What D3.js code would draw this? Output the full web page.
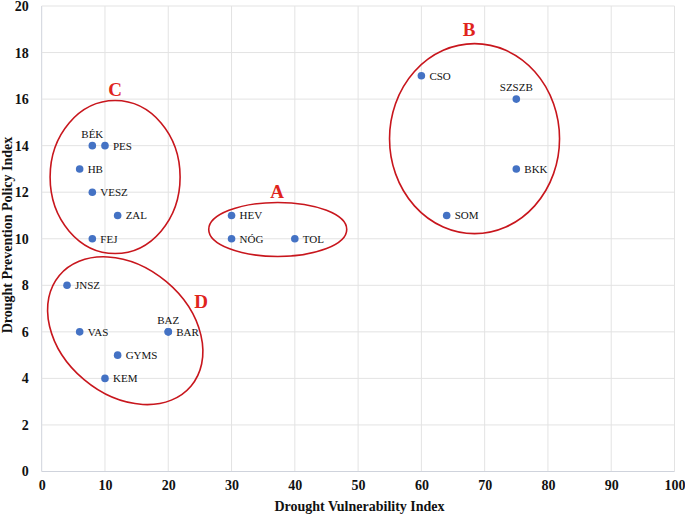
<!DOCTYPE html>
<html>
<head>
<meta charset="utf-8">
<script src="https://cdn.jsdelivr.net/npm/d3@7"></script>
<style>
  html, body { margin: 0; padding: 0; background: #fff; }
  svg { display: block; }
</style>
</head>
<body>
<svg id="chart" width="685" height="514"></svg>
<script>
// ---- Data ----
const names   = ["BÉK","PES","HB","VESZ","ZAL","FEJ","JNSZ","VAS","BAZ","BAR","GYMS","KEM","HEV","NÓG","TOL","CSO","SZSZB","BKK","SOM"];
const vulnerability = [8,10,6,8,12,8,4,6,20,20,12,10,30,30,40,60,75,75,64];
const policy        = [14,14,13,12,11,10,8,6,6,6,5,4,11,10,10,17,16,13,11];
const labelPos      = ["top","right","right","right","right","right","right","right","top","right","right","right","right","right","right","right","top","right","right"];
const xTicks = [0,10,20,30,40,50,60,70,80,90,100];
const yTicks = [0,2,4,6,8,10,12,14,16,18,20];
const groupLetters = ["A","B","C","D"];
const groupCenterX = [37.3, 68.4, 11.6, 13.2];
const groupCenterY = [10.4, 14.3, 12.65, 6.05];

// ---- Layout ----
const svg = d3.select("#chart");
const pLeft = 41.7, pRight = 674.5, pTop = 6, pBottom = 471.5;
const x = d3.scaleLinear().domain([0,100]).range([pLeft, pRight]);
const y = d3.scaleLinear().domain([0,20]).range([pBottom, pTop]);
const serif = "'Liberation Serif', 'Times New Roman', serif";

// gridlines
const grid = svg.append("g");
grid.selectAll("line.v").data(xTicks).join("line")
  .attr("x1", d => x(d)).attr("x2", d => x(d))
  .attr("y1", pTop).attr("y2", pBottom)
  .attr("stroke", d => d === 0 ? "#cfd3dc" : "#e3e3e3").attr("stroke-width", 1);
grid.selectAll("line.h").data(yTicks).join("line")
  .attr("x1", pLeft).attr("x2", pRight)
  .attr("y1", d => y(d)).attr("y2", d => y(d))
  .attr("stroke", d => d === 0 ? "#cfd3dc" : "#e3e3e3").attr("stroke-width", 1);

// axes (labels only)
const xAxis = svg.append("g").attr("transform", `translate(0,${pBottom})`)
  .call(d3.axisBottom(x).tickValues(xTicks).tickSize(0).tickPadding(9));
const yAxis = svg.append("g").attr("transform", `translate(${pLeft},0)`)
  .call(d3.axisLeft(y).tickValues(yTicks).tickSize(0).tickPadding(13));
[xAxis, yAxis].forEach(a => {
  a.select(".domain").remove();
  a.selectAll("text")
    .attr("font-family", serif)
    .attr("font-weight", "bold").attr("font-size", 14).attr("fill", "#111");
});

// axis titles
svg.append("text").attr("x", 359.5).attr("y", 510.5)
  .attr("text-anchor", "middle")
  .attr("font-family", serif)
  .attr("font-weight", "bold").attr("font-size", 14).attr("fill", "#111")
  .text("Drought Vulnerability Index");
svg.append("text").attr("transform", `translate(11.5,235) rotate(-90)`)
  .attr("text-anchor", "middle")
  .attr("font-family", serif)
  .attr("font-weight", "bold").attr("font-size", 14).attr("fill", "#111")
  .text("Drought Prevention Policy Index");

// ellipses (radius in px, rotation in degrees)
const ellShape = [
  {rx: 69, ry: 27, rot: 0},
  {rx: 85, ry: 95, rot: 0},
  {rx: 65, ry: 76.5, rot: 0},
  {rx: 86, ry: 64, rot: 40}
];
const ellG = svg.append("g");
groupLetters.forEach((g, i) => {
  const cx = x(groupCenterX[i]), cy = y(groupCenterY[i]);
  const s = ellShape[i];
  ellG.append("ellipse")
    .attr("transform", `translate(${cx},${cy}) rotate(${s.rot})`)
    .attr("rx", s.rx).attr("ry", s.ry)
    .attr("fill", "none").attr("stroke", "#c8161d").attr("stroke-width", 1.6);
});
const letterPos = [[277, 198], [469, 36], [115, 96], [201, 308]];
groupLetters.forEach((g, i) => {
  svg.append("text").attr("x", letterPos[i][0]).attr("y", letterPos[i][1])
    .attr("text-anchor", "middle")
    .attr("font-family", serif)
    .attr("font-weight", "bold").attr("font-size", 19).attr("fill", "#e0241d")
    .text(g);
});

// points
const pts = names.map((n, i) => ({n, vx: vulnerability[i], vy: policy[i], pos: labelPos[i]}));
svg.append("g").selectAll("circle").data(pts).join("circle")
  .attr("cx", d => x(d.vx)).attr("cy", d => y(d.vy)).attr("r", 3.8)
  .attr("fill", "#4472c4");
svg.append("g").selectAll("text").data(pts).join("text")
  .attr("x", d => d.pos === "top" ? x(d.vx) : x(d.vx) + 8)
  .attr("y", d => d.pos === "top" ? y(d.vy) - 8 : y(d.vy) + 4)
  .attr("text-anchor", d => d.pos === "top" ? "middle" : "start")
  .attr("font-family", serif)
  .attr("font-size", 11).attr("fill", "#111")
  .text(d => d.n);
</script>
</body>
</html>
